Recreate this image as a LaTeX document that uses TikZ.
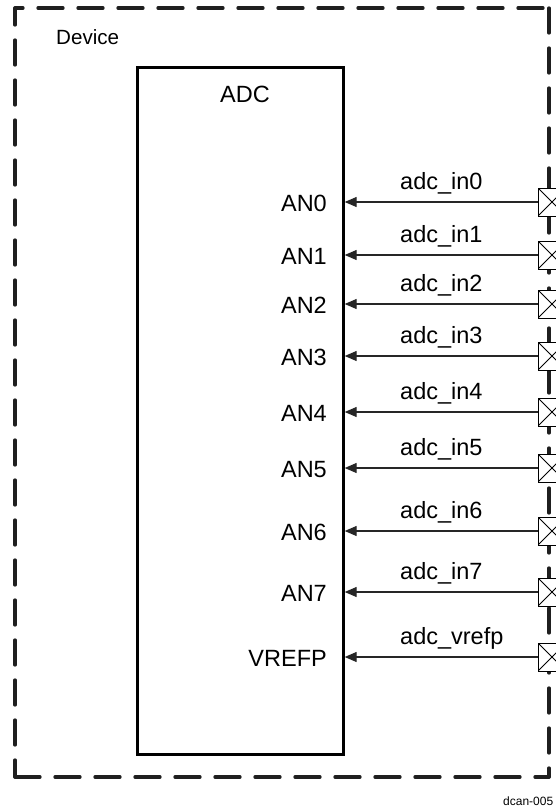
\documentclass[tikz,border=0pt]{standalone}
\usepackage{fontspec}
\setmainfont{Liberation Sans}
\usetikzlibrary{arrows.meta}
\begin{document}
\begin{tikzpicture}[x=1pt,y=-1pt,
  lbl/.style={font=\fontsize{23.5}{28}\selectfont, inner sep=0pt},
  pad/.style={draw, line width=0.9pt, fill=white, minimum size=28pt, inner sep=0pt,
    path picture={\draw[line width=0.8pt] (path picture bounding box.north west) -- (path picture bounding box.south east)
      (path picture bounding box.south west) -- (path picture bounding box.north east);}},
  sig/.style={draw=black!85, line width=1.3pt, -{Triangle[length=12pt,width=10pt]}},
  border/.style={line width=3.3pt, draw=black!88, dash pattern=on 25pt off 15pt, line cap=round},
  block/.style={draw, line width=2.7pt, inner sep=0pt}]
\useasboundingbox (0,0) rectangle (556,806);
\clip (0,0) rectangle (556,806);
% device border
\coordinate (c1) at (15,8);
\coordinate (c2) at (549,8);
\coordinate (c3) at (549,777);
\coordinate (c4) at (15,777);
\draw[border, dash phase=17] (c1) -- (c2);
\draw[border] (c2) -- (c3);
\draw[border] (c4) -- (c3);
\draw[border, dash phase=8] (c4) -- (c1);
\node[anchor=base west, inner sep=0pt, font=\fontsize{20.6}{24}\selectfont] (dev) at (56,44) {Device};
% ADC block
\node[block, anchor=north west, minimum width=206pt, minimum height=687pt] (adc) at (136,66) {};
\node[lbl, anchor=base] (adct) at (245,102) {ADC};
% signals
\foreach \y/\an/\sg [count=\i] in {202/AN0/adc\_in0, 255/AN1/adc\_in1, 304/AN2/adc\_in2,
    356/AN3/adc\_in3, 412/AN4/adc\_in4, 468/AN5/adc\_in5, 531/AN6/adc\_in6,
    592/AN7/adc\_in7, 657/VREFP/adc\_vrefp}{
  \node[pad] (p\i) at (552,\y) {};
  \node[lbl, anchor=base east] (a\i) at (327,\y+9) {\an};
  \node[lbl, anchor=base west] (s\i) at (400,\y-13) {\sg};
  \draw[sig] (p\i.west) -- (p\i.west -| adc.east);
}
\node[anchor=base west, inner sep=0pt, font=\fontsize{12}{14}\selectfont] (fig) at (503,805) {dcan-005};
\end{tikzpicture}
\end{document}
